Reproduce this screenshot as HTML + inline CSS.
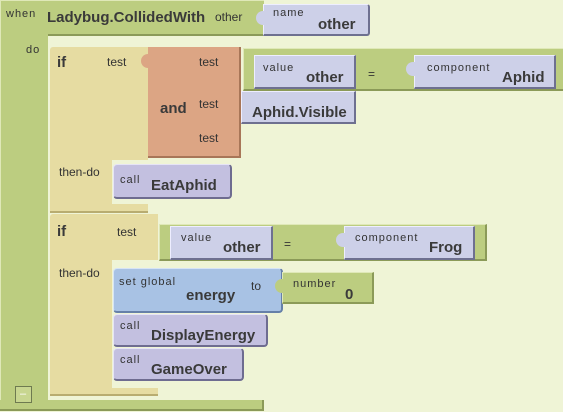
<!DOCTYPE html>
<html><head><meta charset="utf-8"><style>
html,body{margin:0;padding:0;}
body{width:563px;height:412px;background:#eff4d6;position:relative;overflow:hidden;font-family:"Liberation Sans",sans-serif;color:#333;}
.b{position:absolute;box-sizing:border-box;}
.g{background:#bccd80;border-right:2px solid #8b9a58;border-bottom:2px solid #8b9a58;border-top:1px solid #dfe8b8;border-left:1px solid #dfe8b8;}
.lv{background:#cdd0e8;border-right:2px solid #6e7090;border-bottom:2px solid #6e7090;border-top:1px solid #eef;border-left:1px solid #eef;}
.pu{background:#c3c0e0;border-right:2px solid #6e6c90;border-bottom:2px solid #6e6c90;border-top:1px solid #e6e4f6;border-left:1px solid #e6e4f6;border-radius:4px;}
.bl{background:#a8c2e4;border-right:2px solid #6680a8;border-bottom:2px solid #6680a8;border-top:1px solid #d6e4f6;border-left:1px solid #d6e4f6;border-radius:4px;}
.y{background:#e6dca2;}
.o{background:#dca584;border-right:2px solid #a87658;border-bottom:2px solid #a87658;}
.t{position:absolute;white-space:nowrap;}
.s{font-size:11px;letter-spacing:1px;color:#333;}
.m{font-size:12px;color:#333;}
.k{font-size:15px;font-weight:bold;color:#3a3a3a;}
.notch{position:absolute;width:9px;height:14px;border-radius:7px 0 0 7px;}
</style></head><body>
<!-- outer event block -->
<div class="b g" style="left:0;top:0;width:264px;height:36px;border-right:none;"></div>
<div class="b" style="left:0;top:34px;width:48px;height:376px;background:#bccd80;border-left:1px solid #dfe8b8;"></div>
<div class="b" style="left:0;top:400px;width:264px;height:11px;background:#bccd80;border-bottom:2px solid #8b9a58;border-right:2px solid #8b9a58;"></div>
<div class="t s" style="left:6px;top:8px;">when</div>
<div class="t k" style="left:47px;top:9px;">Ladybug.CollidedWith</div>
<div class="t m" style="left:215px;top:10px;">other</div>
<div class="t s" style="left:26px;top:44px;">do</div>
<div class="b lv" style="left:263px;top:4px;width:107px;height:32px;border-radius:0 3px 3px 0;"></div>
<div class="notch" style="left:256px;top:11px;background:#cdd0e8;"></div>
<div class="t s" style="left:273px;top:7px;">name</div>
<div class="t k" style="left:318px;top:16px;">other</div>
<div class="b" style="left:15px;top:386px;width:17px;height:17px;border:1px solid #6e7a50;background:#c8d690;"></div>
<div class="t" style="left:20px;top:388px;font-size:11px;color:#fff;">–</div>

<!-- if 1 -->
<div class="b y" style="left:50px;top:47px;width:98px;height:113px;border-radius:3px 0 0 0;"></div>
<div class="b y" style="left:50px;top:159px;width:62px;height:50px;"></div>
<div class="b y" style="left:50px;top:204px;width:98px;height:9px;border-bottom:2px solid #b8ac70;"></div>
<div class="t k" style="left:57px;top:54px;">if</div>
<div class="t m" style="left:107px;top:55px;">test</div>
<div class="t m" style="left:59px;top:165px;">then-do</div>
<!-- and -->
<div class="b o" style="left:148px;top:47px;width:93px;height:111px;"></div>
<div class="notch" style="left:141px;top:54px;background:#dca584;"></div>
<div class="t k" style="left:160px;top:100px;">and</div>
<div class="t m" style="left:199px;top:55px;">test</div>
<div class="t m" style="left:199px;top:97px;">test</div>
<div class="t m" style="left:199px;top:131px;">test</div>
<!-- eq 1 -->
<div class="b g" style="left:243px;top:48px;width:330px;height:43px;"></div>
<div class="b lv" style="left:254px;top:55px;width:102px;height:34px;"></div>
<div class="t s" style="left:263px;top:62px;">value</div>
<div class="t k" style="left:306px;top:69px;">other</div>
<div class="t m" style="left:368px;top:67px;">=</div>
<div class="b lv" style="left:414px;top:55px;width:142px;height:34px;"></div>
<div class="notch" style="left:406px;top:62px;background:#cdd0e8;"></div>
<div class="t s" style="left:427px;top:62px;">component</div>
<div class="t k" style="left:502px;top:69px;">Aphid</div>
<!-- Aphid.Visible -->
<div class="b lv" style="left:241px;top:91px;width:115px;height:33px;"></div>
<div class="t k" style="left:252px;top:104px;">Aphid.Visible</div>
<!-- EatAphid -->
<div class="b pu" style="left:113px;top:164px;width:119px;height:35px;"></div>
<div class="t s" style="left:120px;top:174px;">call</div>
<div class="t k" style="left:151px;top:177px;">EatAphid</div>

<!-- if 2 -->
<div class="b y" style="left:50px;top:214px;width:108px;height:46px;border-radius:3px 0 0 0;"></div>
<div class="b y" style="left:50px;top:259px;width:62px;height:133px;"></div>
<div class="b y" style="left:50px;top:388px;width:108px;height:8px;border-bottom:2px solid #b8ac70;"></div>
<div class="t k" style="left:57px;top:223px;">if</div>
<div class="t m" style="left:117px;top:225px;">test</div>
<div class="t m" style="left:59px;top:266px;">then-do</div>
<!-- eq 2 -->
<div class="b g" style="left:159px;top:224px;width:328px;height:37px;"></div>
<div class="b lv" style="left:170px;top:226px;width:103px;height:34px;"></div>
<div class="t s" style="left:181px;top:232px;">value</div>
<div class="t k" style="left:223px;top:239px;">other</div>
<div class="t m" style="left:284px;top:237px;">=</div>
<div class="b lv" style="left:344px;top:226px;width:131px;height:34px;"></div>
<div class="notch" style="left:336px;top:233px;background:#cdd0e8;"></div>
<div class="t s" style="left:355px;top:232px;">component</div>
<div class="t k" style="left:429px;top:239px;">Frog</div>
<!-- set global -->
<div class="b bl" style="left:113px;top:268px;width:170px;height:45px;"></div>
<div class="t s" style="left:119px;top:276px;">set global</div>
<div class="t k" style="left:186px;top:287px;">energy</div>
<div class="t m" style="left:251px;top:279px;">to</div>
<div class="b g" style="left:282px;top:272px;width:92px;height:32px;"></div>
<div class="notch" style="left:275px;top:279px;background:#bccd80;"></div>
<div class="t s" style="left:293px;top:278px;">number</div>
<div class="t k" style="left:345px;top:286px;">0</div>
<!-- DisplayEnergy -->
<div class="b pu" style="left:113px;top:314px;width:155px;height:33px;"></div>
<div class="t s" style="left:120px;top:320px;">call</div>
<div class="t k" style="left:151px;top:327px;">DisplayEnergy</div>
<!-- GameOver -->
<div class="b pu" style="left:113px;top:348px;width:131px;height:33px;"></div>
<div class="t s" style="left:120px;top:354px;">call</div>
<div class="t k" style="left:151px;top:361px;">GameOver</div>
</body></html>
